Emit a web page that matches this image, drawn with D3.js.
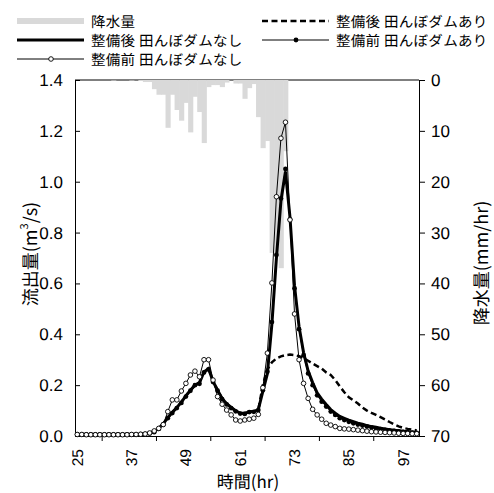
<!DOCTYPE html>
<html>
<head>
<meta charset="utf-8">
<script src="https://cdn.jsdelivr.net/npm/d3@7"></script>
<style>
  body { margin: 0; background: #fff; }
  svg text { text-rendering: geometricPrecision; -webkit-font-smoothing: antialiased; }
</style>
</head>
<body>
<svg id="chart"></svg>
<script>
// hours on the category axis (25 .. 100)
const hours = [25,26,27,28,29,30,31,32,33,34,35,36,37,38,39,40,41,42,43,44,45,46,47,48,49,50,
  51,52,53,54,55,56,57,58,59,60,61,62,63,64,65,66,67,68,69,70,71,72,73,74,75,76,77,78,79,80,
  81,82,83,84,85,86,87,88,89,90,91,92,93,94,95,96,97,98,99,100];
const hourLabels = [25, 37, 49, 61, 73, 85, 97];
const hourTicks = [31, 43, 55, 67, 79, 91];
const flowTicks = [0, 0.2, 0.4, 0.6, 0.8, 1.0, 1.2, 1.4];
const rainTicks = [0, 10, 20, 30, 40, 50, 60, 70];

// 降水量 (mm/hr)
const rain = [0,0,0,0,0,0,0,0,0.1,0,0,0,0.1,0,0.2,0.4,0.4,1.8,2.9,2.9,
  9.4,2.9,5.9,8.0,4.5,10.3,3.3,6.3,12.4,1.4,1.0,1.0,1.4,0.5,0,0.7,0.7,3.7,1.6,0.8,
  7.3,13.4,12.0,34,34,37,14,0,0,0,0,0,0,0,0,0,0,0,0,0,
  0,0,0,0,0,0,0,0,0,0,0,0,0,0,0,0];

// 整備後 田んぼダムなし (thick line)
const afterNoDam = [0.006,0.006,0.006,0.006,0.006,0.006,0.006,0.006,0.006,0.006,0.006,0.006,0.006,0.006,0.007,0.009,0.012,0.018,0.030,0.048,
  0.072,0.093,0.112,0.133,0.158,0.180,0.200,0.210,0.252,0.265,0.215,0.180,0.148,0.127,0.112,0.099,0.090,0.089,0.095,0.096,
  0.104,0.175,0.245,0.440,0.700,0.925,1.040,0.860,0.590,0.430,0.328,0.256,0.210,0.170,0.145,0.124,0.104,0.090,0.077,0.069,
  0.062,0.056,0.050,0.046,0.041,0.037,0.034,0.031,0.028,0.025,0.023,0.021,0.019,0.017,0.016,0.014];

// 整備後 田んぼダムあり (dashed)
const afterDam = [0.006,0.006,0.006,0.006,0.006,0.006,0.006,0.006,0.006,0.006,0.006,0.006,0.006,0.006,0.007,0.009,0.012,0.018,0.030,0.048,
  0.072,0.093,0.112,0.133,0.158,0.180,0.200,0.210,0.252,0.265,0.215,0.180,0.148,0.127,0.112,0.099,0.090,0.089,0.095,0.096,
  0.104,0.200,0.262,0.290,0.305,0.313,0.318,0.320,0.318,0.314,0.306,0.296,0.285,0.275,0.265,0.250,0.240,0.220,0.195,0.172,
  0.152,0.140,0.128,0.112,0.100,0.091,0.083,0.074,0.065,0.055,0.046,0.038,0.032,0.028,0.025,0.022];

// 整備前 田んぼダムなし (open circles)
const beforeNoDam = [0.006,0.006,0.005,0.005,0.005,0.005,0.005,0.005,0.005,0.005,0.005,0.005,0.006,0.006,0.007,0.008,0.012,0.020,0.030,0.045,
  0.096,0.142,0.142,0.177,0.207,0.240,0.255,0.233,0.300,0.300,0.220,0.155,0.125,0.102,0.083,0.063,0.059,0.063,0.066,0.070,
  0.085,0.190,0.326,0.602,0.941,1.171,1.234,0.850,0.480,0.300,0.207,0.148,0.105,0.083,0.066,0.050,0.043,0.037,0.030,0.028,
  0.027,0.025,0.023,0.021,0.019,0.017,0.016,0.015,0.014,0.013,0.012,0.011,0.010,0.010,0.009,0.009];

// 整備前 田んぼダムあり (filled circles)
const beforeDam = [0.006,0.006,0.006,0.006,0.006,0.006,0.006,0.006,0.006,0.006,0.006,0.006,0.006,0.006,0.007,0.008,0.010,0.015,0.028,0.045,
  0.070,0.090,0.110,0.130,0.155,0.178,0.200,0.205,0.250,0.262,0.212,0.178,0.145,0.124,0.110,0.097,0.088,0.087,0.094,0.095,
  0.102,0.180,0.253,0.448,0.712,0.934,1.050,0.852,0.580,0.420,0.318,0.246,0.200,0.160,0.135,0.116,0.096,0.083,0.070,0.063,
  0.056,0.050,0.045,0.041,0.037,0.033,0.030,0.027,0.024,0.022,0.020,0.018,0.016,0.015,0.013,0.012];

let layout = {"width": 494, "height": 493,
  "left": 75, "right": 419, "top": 80, "bottom": 436};

const numFont = "'Liberation Sans Narrow', 'Liberation Sans', Arial, sans-serif";
const jpFont = "'Noto Sans CJK JP', sans-serif";

let svg = d3.select("#chart")
  .attr("width", layout.width)
  .attr("height", layout.height);

let xScale = d3.scaleBand()
  .domain(hours)
  .range([layout.left, layout.right])
  .padding(0);
let xc = h => xScale(h) + xScale.bandwidth() / 2;

let yScale = d3.scaleLinear().domain([0, 1.4]).range([layout.bottom, layout.top]);
let rainScale = d3.scaleLinear().domain([0, 70]).range([layout.top, layout.bottom]);

// top border (rain baseline)
svg.append("line")
  .attr("x1", layout.left).attr("x2", layout.right)
  .attr("y1", layout.top).attr("y2", layout.top)
  .attr("stroke", "black").attr("stroke-width", 1);

// rainfall bars hanging from the top
svg.append("g").attr("id", "rain")
  .selectAll("rect")
  .data(hours.map((h, i) => ({h: h, v: rain[i]})).filter(d => d.v > 0))
  .join("rect")
  .attr("x", d => xScale(d.h))
  .attr("y", rainScale(0))
  .attr("width", xScale.bandwidth() + 0.6)
  .attr("height", d => rainScale(d.v) - rainScale(0))
  .attr("fill", "#d9d9d9");

// axes
let yAxis = svg.append("g")
  .attr("transform", `translate(${layout.left}, 0)`)
  .call(d3.axisLeft(yScale).tickValues(flowTicks).tickFormat(d3.format(".1f"))
    .tickSizeInner(-5).tickSizeOuter(0).tickPadding(12));

let rAxis = svg.append("g")
  .attr("transform", `translate(${layout.right}, 0)`)
  .call(d3.axisRight(rainScale).tickValues(rainTicks)
    .tickSizeInner(6).tickSizeOuter(0).tickPadding(6));

let xAxis = svg.append("g")
  .attr("transform", `translate(0, ${layout.bottom})`)
  .call(d3.axisBottom(xScale).tickValues(hourLabels).tickSize(0).tickPadding(0));
xAxis.selectAll("text")
  .attr("transform", "rotate(-90)")
  .attr("x", -13).attr("y", 0).attr("dy", "0.35em")
  .attr("text-anchor", "end");
xAxis.selectAll(".minorTick")
  .data(hourTicks)
  .join("line")
  .attr("class", "minorTick")
  .attr("x1", d => xScale(d)).attr("x2", d => xScale(d))
  .attr("y1", 0).attr("y2", 5)
  .attr("stroke", "black");

[yAxis, rAxis, xAxis].forEach(a => {
  a.selectAll("path.domain").attr("stroke", "black").attr("stroke-width", 1);
  a.selectAll(".tick line").attr("stroke", "black");
  a.selectAll("text").attr("fill", "black")
    .style("font-family", numFont).style("font-size", "17px");
});
xAxis.selectAll("text").style("font-size", "15.5px");

// series lines
let line = d3.line().x(d => xc(d.h)).y(d => yScale(d.v));
let toPts = arr => hours.map((h, i) => ({h: h, v: arr[i]}));

let marks = svg.append("g").attr("id", "marks");

marks.append("path")
  .datum(toPts(afterDam))
  .attr("d", line)
  .attr("fill", "none").attr("stroke", "black")
  .attr("stroke-width", 2.5).attr("stroke-dasharray", "6,3.5");

marks.append("path")
  .datum(toPts(afterNoDam))
  .attr("d", line)
  .attr("fill", "none").attr("stroke", "black")
  .attr("stroke-width", 3);

marks.append("path")
  .datum(toPts(beforeDam))
  .attr("d", line)
  .attr("fill", "none").attr("stroke", "black")
  .attr("stroke-width", 1);
marks.selectAll(".dotFilled")
  .data(toPts(beforeDam))
  .join("circle")
  .attr("class", "dotFilled")
  .attr("cx", d => xc(d.h)).attr("cy", d => yScale(d.v))
  .attr("r", 2.4).attr("fill", "black");

marks.append("path")
  .datum(toPts(beforeNoDam))
  .attr("d", line)
  .attr("fill", "none").attr("stroke", "black")
  .attr("stroke-width", 1);
marks.selectAll(".dotOpen")
  .data(toPts(beforeNoDam))
  .join("circle")
  .attr("class", "dotOpen")
  .attr("cx", d => xc(d.h)).attr("cy", d => yScale(d.v))
  .attr("r", 2.3).attr("fill", "white")
  .attr("stroke", "black").attr("stroke-width", 0.9);

// axis titles
svg.append("text")
  .attr("transform", "translate(30, 254) rotate(-90)")
  .attr("text-anchor", "middle").attr("dominant-baseline", "central")
  .attr("fill", "black")
  .style("font-family", jpFont).style("font-size", "18px")
  .html("流出量(m<tspan dy='-6' font-size='11px'>3</tspan><tspan dy='6'>/s)</tspan>");

svg.append("text")
  .attr("transform", "translate(481, 263) rotate(-90)")
  .attr("text-anchor", "middle").attr("dominant-baseline", "central")
  .attr("fill", "black")
  .style("font-family", jpFont).style("font-size", "18px")
  .text("降水量(mm/hr)");

svg.append("text")
  .attr("x", 248).attr("y", 480)
  .attr("text-anchor", "middle").attr("dominant-baseline", "central")
  .attr("fill", "black")
  .style("font-family", jpFont).style("font-size", "17px")
  .text("時間(hr)");

// legend
let legend = svg.append("g").attr("id", "legend");
const legendItems = [
  {label: "降水量", x: 17, y: 21, kind: "bar"},
  {label: "整備後 田んぼダムなし", x: 17, y: 40, kind: "thick"},
  {label: "整備前 田んぼダムなし", x: 17, y: 59, kind: "open"},
  {label: "整備後 田んぼダムあり", x: 262, y: 21, kind: "dash"},
  {label: "整備前 田んぼダムあり", x: 262, y: 40, kind: "filled"}
];
legendItems.forEach(d => {
  let g = legend.append("g").attr("transform", `translate(${d.x}, ${d.y})`);
  if (d.kind === "bar") {
    g.append("rect").attr("x", 0).attr("y", -3).attr("width", 67).attr("height", 6).attr("fill", "#d9d9d9");
  } else {
    g.append("line").attr("x1", 0).attr("x2", 67).attr("y1", 0).attr("y2", 0)
      .attr("stroke", "black")
      .attr("stroke-width", d.kind === "thick" ? 3 : d.kind === "dash" ? 2.5 : 1)
      .attr("stroke-dasharray", d.kind === "dash" ? "6,3.5" : null);
    if (d.kind === "open") {
      g.append("circle").attr("cx", 34).attr("cy", 0).attr("r", 2.3)
        .attr("fill", "white").attr("stroke", "black").attr("stroke-width", 0.9);
    }
    if (d.kind === "filled") {
      g.append("circle").attr("cx", 34).attr("cy", 0).attr("r", 2.4).attr("fill", "black");
    }
  }
  g.append("text")
    .attr("x", 74).attr("y", 0)
    .attr("dominant-baseline", "central")
    .attr("fill", "black")
    .style("font-family", jpFont).style("font-size", "14.5px")
    .style("letter-spacing", "0.3px")
    .text(d.label);
});
</script>
</body>
</html>
